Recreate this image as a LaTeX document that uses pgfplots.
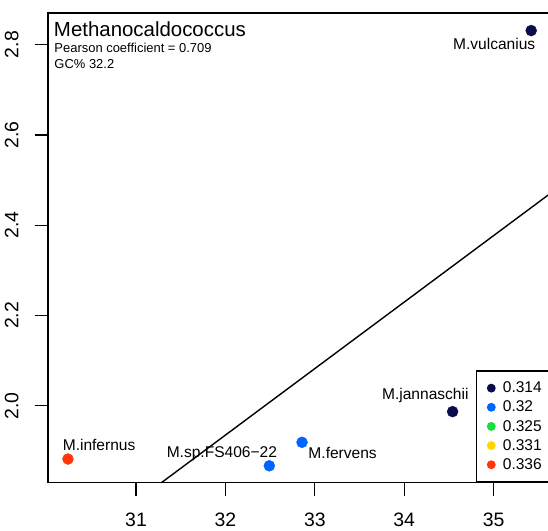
\documentclass[border=0pt]{standalone}
\usepackage{fontspec}
\setmainfont{Liberation Sans}
\usepackage{pgfplots}
\pgfplotsset{compat=1.18}
\definecolor{c1}{RGB}{12,12,75}
\definecolor{c2}{RGB}{0,100,255}
\definecolor{c3}{RGB}{20,225,60}
\definecolor{c4}{RGB}{255,215,0}
\definecolor{c5}{RGB}{255,55,10}
\begin{document}
\begin{tikzpicture}
\begin{axis}[
  scale only axis, width=525.8bp, height=469.3bp,
  xmin=30.019, xmax=35.9, ymin=1.830, ymax=2.8695,
  axis line style={line width=1.6bp},
  tick align=outside, major tick length=13.5bp,
  tick style={black, line width=1.3bp},
  xtick={31,32,33,34,35}, xticklabels={31,32,33,34,35},
  ytick={2.0,2.2,2.4,2.6,2.8}, yticklabels={2.0,2.2,2.4,2.6,2.8},
  xtick pos=bottom, ytick pos=left,
  ticklabel style={font=\fontsize{19.5}{22}\selectfont},
  xticklabel style={anchor=base, inner sep=0pt, yshift=-30.7bp},
  yticklabel style={xshift=-16.5bp, rotate=90, anchor=base, inner sep=0pt},
  legend image code/.code={\fill[#1] (0bp,0bp) circle (3.8bp);},
  legend style={at={(axis cs:34.806,1.830)}, anchor=south west, draw=black, line width=1.2bp, fill=white,
    inner xsep=10bp, inner ysep=11bp, row sep=6.8bp,
    font=\fontsize{15.6}{18}\selectfont,
    nodes={inner sep=0pt},
    /tikz/every odd column/.append style={column sep=7.2bp}},
  legend cell align=left,
]
\addlegendimage{c1}\addlegendentry{0.314}
\addlegendimage{c2}\addlegendentry{0.32}
\addlegendimage{c3}\addlegendentry{0.325}
\addlegendimage{c4}\addlegendentry{0.331}
\addlegendimage{c5}\addlegendentry{0.336}

% regression line
\addplot[black, line width=1.4bp, forget plot] coordinates {(30.0,1.6404) (36.0,2.5242)};

\addplot[only marks, mark=*, mark size=5.5bp, color=c1, forget plot] coordinates {(35.42,2.831) (34.541,1.987)};
\addplot[only marks, mark=*, mark size=5.5bp, color=c2, forget plot] coordinates {(32.857,1.919) (32.491,1.867)};
\addplot[only marks, mark=*, mark size=5.5bp, color=c5, forget plot] coordinates {(30.239,1.882)};

\node[anchor=base west, inner sep=0pt, font=\fontsize{20.5}{24}\selectfont] at (axis cs:30.0805,2.8177) {Methanocaldococcus};
\node[anchor=base west, inner sep=0pt, font=\fontsize{13}{15}\selectfont] at (axis cs:30.086,2.7816) {Pearson coefficient = 0.709};
\node[anchor=base west, inner sep=0pt, font=\fontsize{13}{15}\selectfont] at (axis cs:30.086,2.7462) {GC\% 32.2};

\node[anchor=base east, inner sep=0pt, font=\fontsize{15.6}{18}\selectfont] at (axis cs:35.467,2.790) {M.vulcanius};
\node[anchor=base, inner sep=0pt, font=\fontsize{15.6}{18}\selectfont] at (axis cs:34.236,2.014) {M.jannaschii};
\node[anchor=base west, inner sep=0pt, font=\fontsize{15.6}{18}\selectfont] at (axis cs:32.927,1.8833) {M.fervens};
\node[anchor=base, inner sep=0pt, font=\fontsize{15.6}{18}\selectfont] at (axis cs:31.960,1.8848) {M.sp.FS406−22};
\node[anchor=base west, inner sep=0pt, font=\fontsize{15.6}{18}\selectfont] at (axis cs:30.179,1.901) {M.infernus};

\coordinate (bl) at (rel axis cs:0,0);
\end{axis}
\pgfresetboundingbox
\path[use as bounding box] ([shift={(-48.3bp,-48.5bp)}]bl) rectangle ([shift={(499.7bp,482.5bp)}]bl);
\end{tikzpicture}
\end{document}
